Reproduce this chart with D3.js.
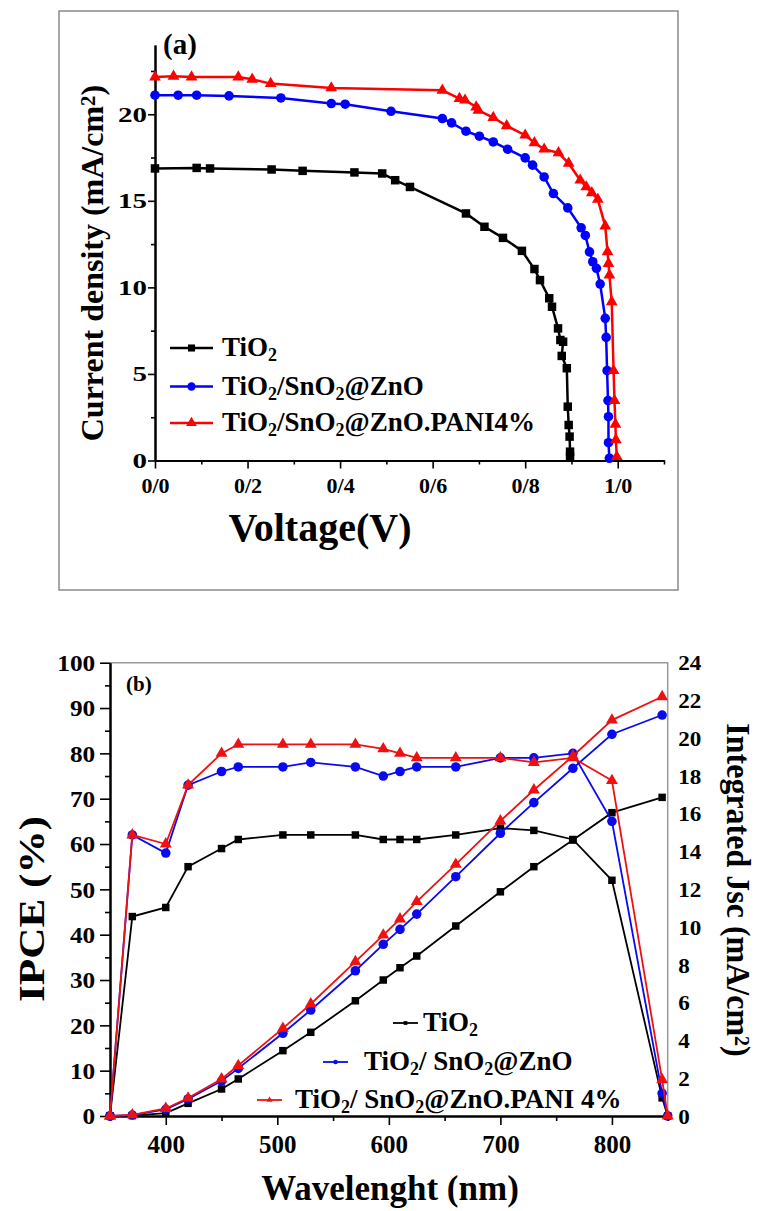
<!DOCTYPE html>
<html><head><meta charset="utf-8">
<script src="https://cdn.jsdelivr.net/npm/d3@7/dist/d3.min.js"></script>
<style>
html,body{margin:0;padding:0;background:#fff;}
svg{display:block;font-family:"Liberation Serif","Times New Roman",serif;font-weight:bold;}
</style></head><body>
<svg id="c" width="761" height="1211"></svg>
<script>
// ---------------- Panel (a) data: J–V curves ----------------
const jvVoltageTiO2 = [0, 0.090, 0.119, 0.252, 0.319, 0.431, 0.491, 0.519, 0.551, 0.672, 0.712, 0.752, 0.793, 0.820, 0.832, 0.852, 0.858, 0.871, 0.876, 0.882, 0.879, 0.890, 0.892, 0.894, 0.896, 0.897, 0.897];
const jvCurrentTiO2 = [16.87, 16.90, 16.87, 16.81, 16.73, 16.64, 16.58, 16.19, 15.80, 14.27, 13.50, 12.86, 12.11, 11.06, 10.42, 9.37, 8.88, 7.63, 6.96, 6.86, 6.04, 5.33, 3.11, 2.05, 1.38, 0.51, 0.22];

const jvVoltageSnZn = [0, 0.050, 0.090, 0.160, 0.272, 0.381, 0.411, 0.510, 0.621, 0.641, 0.672, 0.701, 0.731, 0.762, 0.800, 0.816, 0.841, 0.861, 0.892, 0.921, 0.930, 0.939, 0.946, 0.954, 0.962, 0.973, 0.975, 0.977, 0.979, 0.980, 0.980, 0.982];
const jvCurrentSnZn = [21.10, 21.10, 21.10, 21.06, 20.94, 20.62, 20.58, 20.17, 19.75, 19.50, 19.02, 18.73, 18.40, 17.98, 17.48, 17.06, 16.38, 15.42, 14.59, 13.44, 13.00, 12.05, 11.48, 11.10, 10.19, 8.21, 7.11, 5.19, 3.46, 2.53, 1.03, 0.13];

const jvVoltagePani = [0, 0.040, 0.079, 0.180, 0.210, 0.250, 0.381, 0.621, 0.658, 0.670, 0.694, 0.699, 0.731, 0.760, 0.800, 0.820, 0.841, 0.872, 0.894, 0.919, 0.932, 0.944, 0.957, 0.973, 0.978, 0.980, 0.982, 0.987, 0.991, 0.993, 0.995, 0.996, 0.998];
const jvCurrentPani = [22.15, 22.19, 22.15, 22.15, 22.02, 21.77, 21.52, 21.38, 20.90, 20.81, 20.42, 20.23, 19.81, 19.33, 18.79, 18.35, 17.98, 17.77, 17.16, 16.19, 15.80, 15.46, 15.08, 13.54, 12.05, 11.38, 10.71, 9.17, 5.19, 3.46, 2.09, 1.19, 0.22];

const xTickValuesA = [0, 0.2, 0.4, 0.6, 0.8, 1.0];
const xTickLabelsA = ["0/0", "0/2", "0/4", "0/6", "0/8", "1/0"];
const xMinorTicksA = [0.1, 0.3, 0.5, 0.7, 0.9, 1.1];
const yTickValuesA = [0, 5, 10, 15, 20];
const yMinorTicksA = [2.5, 7.5, 12.5, 17.5, 22.5];
const seriesNamesA = ["TiO2", "TiO2/SnO2@ZnO", "TiO2/SnO2@ZnO.PANI4%"];

// ---------------- Panel (b) data: IPCE and integrated Jsc ----------------
const wavelengthIPCE = [350, 370, 400, 420, 450, 465, 505, 530, 570, 595, 610, 625, 660, 700, 730, 765, 800, 845, 850];
const ipceTiO2 = [0, 44, 46, 55, 59, 61, 62, 62, 62, 61, 61, 61, 62, 63.5, 63, 61, 52, 4, 0];
const ipceSnZn = [0, 62, 58, 73, 76, 77, 77, 78, 77, 75, 76, 77, 77, 79, 79, 80, 65, 5, 0];
const ipcePani = [0, 62, 60, 73, 80, 82, 82, 82, 82, 81, 80, 79, 79, 79, 78, 79, 74, 8, 0];

const wavelengthJsc = [350, 370, 400, 420, 450, 465, 505, 530, 570, 595, 610, 625, 660, 700, 730, 765, 800, 845];
const jscTiO2 = [0, 0.02, 0.15, 0.67, 1.43, 1.96, 3.46, 4.43, 6.10, 7.20, 7.85, 8.47, 10.06, 11.87, 13.20, 14.61, 16.06, 16.87];
const jscSnZn = [0, 0.05, 0.35, 0.90, 1.85, 2.52, 4.38, 5.61, 7.69, 9.09, 9.88, 10.69, 12.67, 14.97, 16.59, 18.41, 20.21, 21.23];
const jscPani = [0, 0.06, 0.40, 0.95, 1.96, 2.67, 4.64, 5.93, 8.17, 9.58, 10.43, 11.35, 13.32, 15.62, 17.26, 19.06, 20.96, 22.20];

const xTickValuesB = [400, 500, 600, 700, 800];
const xMinorTicksB = [350, 450, 550, 650, 750, 850];
const yLeftTicksB = [0, 10, 20, 30, 40, 50, 60, 70, 80, 90, 100];
const yLeftMinorB = [5, 15, 25, 35, 45, 55, 65, 75, 85, 95];
const yRightTicksB = [0, 2, 4, 6, 8, 10, 12, 14, 16, 18, 20, 22, 24];
const seriesNamesB = ["TiO2", "TiO2/ SnO2@ZnO", "TiO2/ SnO2@ZnO.PANI 4%"];

// ---------------- helpers ----------------
const svg = d3.select("#c");

function richText(sel, str, subSize) {
  let buf = "";
  const parts = [];
  for (let i = 0; i < str.length; i++) {
    const ch = str[i];
    if (ch === "2" && i > 0 && str[i - 1] === "O") {
      if (buf) parts.push([buf, false]);
      parts.push(["2", true]);
      buf = "";
    } else buf += ch;
  }
  if (buf) parts.push([buf, false]);
  parts.forEach(p => {
    const t = sel.append("tspan").text(p[0]);
    if (p[1]) t.attr("font-size", subSize).attr("baseline-shift", "-25%");
  });
}

function styleAxis(g, fontSize) {
  g.attr("font-family", null).attr("font-size", null);
  g.select(".domain").attr("stroke", "#000").attr("stroke-width", 2);
  g.selectAll(".tick line").attr("stroke", "#000").attr("stroke-width", 1.6);
  g.selectAll(".tick text").attr("fill", "#000").attr("font-size", fontSize).attr("font-weight", "bold");
}

const symSquare = d3.symbol().type(d3.symbolSquare);
const symCircle = d3.symbol().type(d3.symbolCircle);
const symTri = d3.symbol().type(d3.symbolTriangle);

// ================= Panel (a) =================
svg.append("rect").attr("x", 59).attr("y", 11).attr("width", 619).attr("height", 579)
  .attr("fill", "none").attr("stroke", "#8a8a8a").attr("stroke-width", 1.5);

const xA = d3.scaleLinear().domain([0, 1.1]).range([155, 664]);
const yA = d3.scaleLinear().domain([0, 24]).range([460.5, 45]);

const gxAminor = svg.append("g").attr("transform", "translate(0,460.5)")
  .call(d3.axisBottom(xA).tickValues(xMinorTicksA).tickSize(4).tickSizeOuter(0).tickFormat(""));
styleAxis(gxAminor, 22);
const gxA = svg.append("g").attr("transform", "translate(0,460.5)")
  .call(d3.axisBottom(xA).tickValues(xTickValuesA).tickSize(8).tickSizeOuter(0)
    .tickFormat((d, i) => xTickLabelsA[i]));
styleAxis(gxA, 22);
gxA.selectAll(".tick text").attr("y", 17).attr("dy", "0.71em");

const gyAminor = svg.append("g").attr("transform", "translate(155,0)")
  .call(d3.axisLeft(yA).tickValues(yMinorTicksA).tickSize(4).tickSizeOuter(0).tickFormat(""));
styleAxis(gyAminor, 20);
const gyA = svg.append("g").attr("transform", "translate(155,0)")
  .call(d3.axisLeft(yA).tickValues(yTickValuesA).tickSize(7).tickSizeOuter(0));
styleAxis(gyA, 20);
gyA.selectAll(".tick text").attr("x", -5.6).attr("dy", "0.34em").attr("transform", "scale(1.45,1)");

svg.append("text").attr("x", 163).attr("y", 54).attr("font-size", 29).text("(a)");

svg.append("text").attr("transform", "translate(103,263) rotate(-90)")
  .attr("text-anchor", "middle").attr("font-size", 32)
  .call(t => {
    t.append("tspan").text("Current density (mA/cm");
    t.append("tspan").attr("font-size", 21).attr("baseline-shift", "40%").text("2");
    t.append("tspan").text(")");
  });

svg.append("text").attr("x", 320).attr("y", 541).attr("text-anchor", "middle")
  .attr("font-size", 40).text("Voltage(V)");

const seriesA = [
  { v: jvVoltageTiO2, j: jvCurrentTiO2, color: "#000000", sym: symSquare.size(72) },
  { v: jvVoltageSnZn, j: jvCurrentSnZn, color: "#0000ff", sym: symCircle.size(72) },
  { v: jvVoltagePani, j: jvCurrentPani, color: "#ff0000", sym: symTri.size(60) }
];
const lineA = d3.line().x(d => xA(d[0])).y(d => yA(d[1]));
seriesA.forEach(s => {
  const pts = d3.zip(s.v, s.j);
  svg.append("path").attr("d", lineA(pts)).attr("fill", "none")
    .attr("stroke", s.color).attr("stroke-width", 2.5);
  const path = s.sym();
  svg.append("g").selectAll("path").data(pts).join("path")
    .attr("transform", d => `translate(${xA(d[0])},${yA(d[1])})`)
    .attr("d", path).attr("fill", s.color);
});

// legend (a)
const legA = [348, 386.5, 423];
seriesNamesA.forEach((name, i) => {
  const s = seriesA[i];
  svg.append("line").attr("x1", 170).attr("x2", 213).attr("y1", legA[i]).attr("y2", legA[i])
    .attr("stroke", s.color).attr("stroke-width", 2.5);
  const sym = [symSquare.size(50), symCircle.size(55), symTri.size(50)][i];
  svg.append("path").attr("d", sym()).attr("transform", `translate(191.5,${legA[i]})`).attr("fill", s.color);
  const t = svg.append("text").attr("x", 222).attr("y", legA[i] + 8).attr("font-size", 27);
  richText(t, name, 18);
});

// ================= Panel (b) =================
const xB = d3.scaleLinear().domain([350, 850]).range([110, 667.7]);
const yL = d3.scaleLinear().domain([0, 100]).range([1116, 662.7]);
const yR = d3.scaleLinear().domain([0, 24]).range([1116, 662.7]);

svg.append("path").attr("d", `M110,662.7H667.7V1116`).attr("fill", "none")
  .attr("stroke", "#999").attr("stroke-width", 1.5);

const gxBminor = svg.append("g").attr("transform", "translate(0,1116)")
  .call(d3.axisBottom(xB).tickValues(xMinorTicksB).tickSize(5).tickSizeOuter(0).tickFormat(""));
styleAxis(gxBminor, 24);
const gxB = svg.append("g").attr("transform", "translate(0,1116)")
  .call(d3.axisBottom(xB).tickValues(xTickValuesB).tickSize(9).tickSizeOuter(0).tickFormat(d3.format("d")));
styleAxis(gxB, 25);
gxB.selectAll(".tick text").attr("y", 19).attr("dy", "0.71em");

const gyLminor = svg.append("g").attr("transform", "translate(110,0)")
  .call(d3.axisLeft(yL).tickValues(yLeftMinorB).tickSize(5).tickSizeOuter(0).tickFormat(""));
styleAxis(gyLminor, 23);
const gyL = svg.append("g").attr("transform", "translate(110,0)")
  .call(d3.axisLeft(yL).tickValues(yLeftTicksB).tickSize(10).tickSizeOuter(0).tickFormat(d3.format("d")));
styleAxis(gyL, 23);
gyL.selectAll(".tick text").attr("x", -13.5).attr("dy", "0.34em").attr("transform", "scale(1.1,1)");

const gyR = svg.append("g").attr("transform", "translate(667.7,0)")
  .call(d3.axisRight(yR).tickValues(yRightTicksB).tickSize(0).tickSizeOuter(0).tickFormat(d3.format("d")));
styleAxis(gyR, 21);
gyR.select(".domain").remove();
gyR.selectAll(".tick text").attr("x", 9.5).attr("dy", "0.34em").attr("transform", "scale(1.1,1)");

svg.append("text").attr("x", 126).attr("y", 691).attr("font-size", 21).text("(b)");

svg.append("text").attr("transform", "translate(44,909) rotate(-90) scale(1.2,1)")
  .attr("text-anchor", "middle").attr("font-size", 36).text("IPCE (%)");

svg.append("text").attr("transform", "translate(727,890) rotate(90) scale(1,1.06)")
  .attr("text-anchor", "middle").attr("font-size", 32)
  .call(t => {
    t.append("tspan").text("Integrated Jsc (mA/cm");
    t.append("tspan").attr("font-size", 20).attr("baseline-shift", "38%").text("2");
    t.append("tspan").text(")");
  });

svg.append("text").attr("x", 390).attr("y", 1200).attr("text-anchor", "middle")
  .attr("font-size", 35).text("Wavelenght (nm)");

const seriesB = [
  { ipce: ipceTiO2, jsc: jscTiO2, color: "#000000", sym: () => symSquare.size(56)() },
  { ipce: ipceSnZn, jsc: jscSnZn, color: "#0a0aee", sym: () => symCircle.size(72)() },
  { ipce: ipcePani, jsc: jscPani, color: "#ee1111", sym: () => symTri.size(62)() }
];
const lineL = d3.line().x(d => xB(d[0])).y(d => yL(d[1]));
const lineR = d3.line().x(d => xB(d[0])).y(d => yR(d[1]));
seriesB.forEach(s => {
  const p1 = d3.zip(wavelengthIPCE, s.ipce);
  const p2 = d3.zip(wavelengthJsc, s.jsc);
  svg.append("path").attr("d", lineL(p1)).attr("fill", "none").attr("stroke", s.color).attr("stroke-width", 1.8);
  svg.append("path").attr("d", lineR(p2)).attr("fill", "none").attr("stroke", s.color).attr("stroke-width", 1.8);
  const sp = s.sym();
  svg.append("g").selectAll("path").data(p1).join("path")
    .attr("transform", d => `translate(${xB(d[0])},${yL(d[1])})`).attr("d", sp).attr("fill", s.color);
  svg.append("g").selectAll("path").data(p2).join("path")
    .attr("transform", d => `translate(${xB(d[0])},${yR(d[1])})`).attr("d", sp).attr("fill", s.color);
});

// legend (b)
const legB = [
  { x1: 393, x2: 418, y: 1023, tx: 423 },
  { x1: 323, x2: 348, y: 1062, tx: 364 },
  { x1: 257, x2: 282, y: 1100, tx: 295 }
];
seriesNamesB.forEach((name, i) => {
  const L = legB[i], s = seriesB[i];
  svg.append("line").attr("x1", L.x1).attr("x2", L.x2).attr("y1", L.y).attr("y2", L.y)
    .attr("stroke", s.color).attr("stroke-width", 1.8);
  const sym = [symSquare.size(14), symCircle.size(16), symTri.size(16)][i];
  svg.append("path").attr("d", sym()).attr("transform", `translate(${(L.x1 + L.x2) / 2},${L.y})`).attr("fill", s.color);
  const t = svg.append("text").attr("x", L.tx).attr("y", L.y + 8).attr("font-size", 27);
  richText(t, name, 18);
});
</script>
</body></html>
